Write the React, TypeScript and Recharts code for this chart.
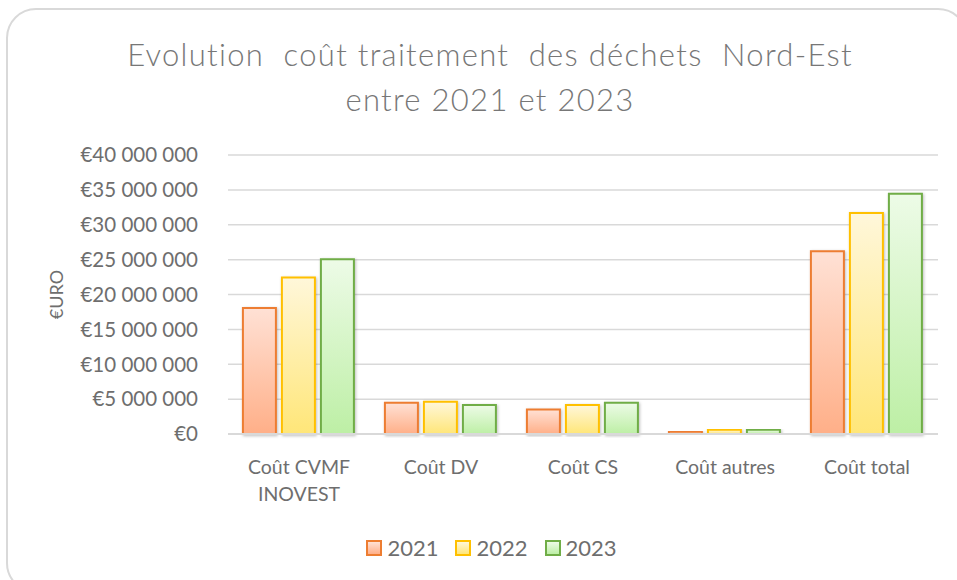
import React from 'react';
import { BarChart, Bar, XAxis, YAxis, CartesianGrid } from 'recharts';

const categories = ['Coût CVMF INOVEST', 'Coût DV', 'Coût CS', 'Coût autres', 'Coût total'];
const years = ['2021', '2022', '2023'];
const values2021 = [18050000, 4480000, 3530000, 330000, 26200000];
const values2022 = [22450000, 4620000, 4150000, 620000, 31700000];
const values2023 = [25050000, 4150000, 4480000, 620000, 34450000];
const yTicks = [0, 5000000, 10000000, 15000000, 20000000, 25000000, 30000000, 35000000, 40000000];
const titleLines = ['Evolution  coût traitement  des déchets  Nord-Est', 'entre 2021 et 2023'];
const yAxisTitle = '€URO';

const seriesValues = [values2021, values2022, values2023];
const data = categories.map((c, i) => {
  const row: any = { name: c };
  years.forEach((y, k) => { row[y] = seriesValues[k][i]; });
  return row;
});

const styles = [
  { stroke: '#ED7D31', top: '#FFE1D5', bottom: '#FFAF88' },
  { stroke: '#FFC000', top: '#FFF7DA', bottom: '#FFE678' },
  { stroke: '#70AD47', top: '#EDFBE7', bottom: '#BDEFA5' },
];

const FONT = 'Lato, "Open Sans", sans-serif';
const GREY = '#6E6E6E';

const fmt = (v: number) => '€' + String(v).replace(/\B(?=(\d{3})+(?!\d))/g, ' ');

const splitLabel = (s: string, max: number) => {
  const words = s.split(' ');
  const lines: string[] = [];
  let cur = '';
  words.forEach((w) => {
    const t = cur ? cur + ' ' + w : w;
    if (t.length > max && cur) { lines.push(cur); cur = w; } else cur = t;
  });
  if (cur) lines.push(cur);
  return lines;
};

const XTick = (props: any) => {
  const { x, y, payload } = props;
  const lines = splitLabel(payload.value, 11);
  return (
    <g transform={`translate(${x},${y})`}>
      {lines.map((l, i) => (
        <text key={i} x={0} y={32 + i * 27} textAnchor="middle" fill={GREY} fontSize={19.5} fontFamily={FONT}>{l}</text>
      ))}
    </g>
  );
};

export default function App() {
  return (
    <div style={{ position: 'absolute', left: 0, top: 0, width: 957, height: 580, background: '#fff', overflow: 'hidden' }}>
      <div style={{ position: 'absolute', left: 6, top: 8, width: 962, height: 585, border: '2px solid #D9D9D9', borderRadius: 30, boxSizing: 'border-box' }} />
      <div style={{ position: 'absolute', left: 0, top: 32, width: 980, textAlign: 'center', fontFamily: FONT, fontSize: 31, fontWeight: 300, letterSpacing: 1.3, color: '#777777', lineHeight: '45px', whiteSpace: 'pre' }}>
        {titleLines.map((l, i) => <div key={i}>{l}</div>)}
      </div>
      <div style={{ position: 'absolute', left: 0, top: 0 }}>
        <BarChart width={957} height={580} data={data} margin={{ top: 155, right: 19, bottom: 0, left: 40 }} barCategoryGap="10.5%" barGap={6}>
          <defs>
            {styles.map((s, k) => (
              <linearGradient key={k} id={`g${k}`} x1="0" y1="0" x2="0" y2="1">
                <stop offset="0%" stopColor={s.top} />
                <stop offset="100%" stopColor={s.bottom} />
              </linearGradient>
            ))}
            <filter id="sh" x="-20%" y="-10%" width="140%" height="120%">
              <feDropShadow dx="1" dy="1" stdDeviation="1.5" floodColor="#000" floodOpacity="0.25" />
            </filter>
          </defs>
          <CartesianGrid vertical={false} stroke="#D9D9D9" strokeWidth={1.5} />
          <XAxis dataKey="name" axisLine={{ stroke: '#D9D9D9', strokeWidth: 2 }} tickLine={false} tick={<XTick />} height={146} interval={0} />
          <YAxis domain={[0, 40000000]} ticks={yTicks} tickFormatter={fmt} axisLine={false} tickLine={false} width={188}
            tick={{ fill: GREY, fontSize: 20.5, fontFamily: FONT, dx: -22 }}
            label={{ value: yAxisTitle, angle: -90, position: 'insideLeft', offset: 17, style: { fill: GREY, fontSize: 18, fontFamily: FONT, textAnchor: 'middle' } }} />
          {years.map((y, k) => (
            <Bar key={y} dataKey={y} fill={`url(#g${k})`} stroke={styles[k].stroke} strokeWidth={2} isAnimationActive={false} style={{ filter: 'url(#sh)' }} />
          ))}
        </BarChart>
      </div>
      <div style={{ position: 'absolute', left: 0, top: 534, width: 983, display: 'flex', justifyContent: 'center', gap: 17, fontFamily: FONT, fontSize: 22, color: GREY }}>
        {years.map((y, k) => (
          <div key={y} style={{ display: 'flex', alignItems: 'center' }}>
            <span style={{ display: 'inline-block', width: 12, height: 12, border: `2px solid ${styles[k].stroke}`, background: `linear-gradient(${styles[k].top}, ${styles[k].bottom})`, marginRight: 5 }} />
            <span>{y}</span>
          </div>
        ))}
      </div>
    </div>
  );
}
